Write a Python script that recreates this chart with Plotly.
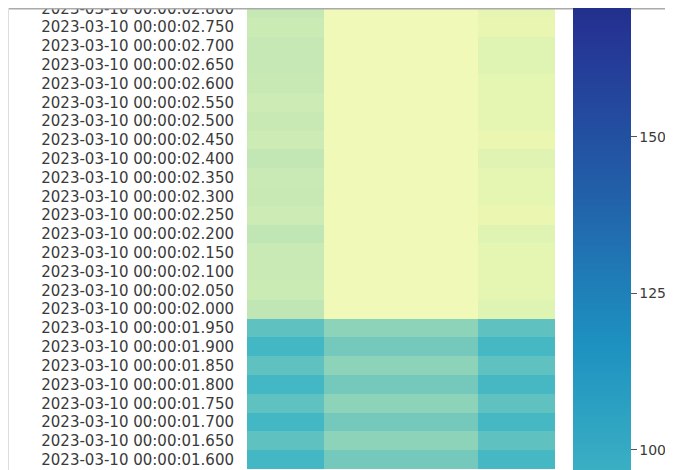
import plotly.graph_objects as go
import plotly.express as px

# ---- data ----
times = [
    "2023-03-10 00:00:01.600", "2023-03-10 00:00:01.650", "2023-03-10 00:00:01.700",
    "2023-03-10 00:00:01.750", "2023-03-10 00:00:01.800", "2023-03-10 00:00:01.850",
    "2023-03-10 00:00:01.900", "2023-03-10 00:00:01.950", "2023-03-10 00:00:02.000",
    "2023-03-10 00:00:02.050", "2023-03-10 00:00:02.100", "2023-03-10 00:00:02.150",
    "2023-03-10 00:00:02.200", "2023-03-10 00:00:02.250", "2023-03-10 00:00:02.300",
    "2023-03-10 00:00:02.350", "2023-03-10 00:00:02.400", "2023-03-10 00:00:02.450",
    "2023-03-10 00:00:02.500", "2023-03-10 00:00:02.550", "2023-03-10 00:00:02.600",
    "2023-03-10 00:00:02.650", "2023-03-10 00:00:02.700", "2023-03-10 00:00:02.750",
    "2023-03-10 00:00:02.800",
]
columns = ["ch1", "ch2", "ch3", "ch4"]
ch1 = [91, 80, 91, 80, 91, 80, 91, 80, 44.5, 39.5, 41, 41, 44.5, 38, 41.5, 41,
       43.5, 38, 41.5, 38, 41.5, 42.5, 42.5, 39.5, 42.5]
ch2 = [71, 62, 71, 62, 71, 62, 71, 62, 13, 13, 13, 13, 13, 13, 13, 13,
       13, 13, 13, 13, 13, 13, 13, 13, 13]
ch3 = [71, 62, 71, 62, 71, 62, 71, 62, 13, 13, 13, 13, 13, 13, 13, 13,
       13, 13, 13, 13, 13, 13, 13, 13, 13]
ch4 = [90, 80, 90, 80, 90, 80, 90, 80, 26, 22, 22, 22, 26, 18.5, 22, 22,
       25, 18.5, 22, 22, 22, 26, 26, 20, 21.5]
z_min, z_max = -8, 192
cbar_ticks = [75, 100, 125, 150, 175]

# ---- figure (page body adds an 8px margin, so the figure is 8px smaller) ----
W, H = 665, 462
ML, MR = 239, 118
PW = W - ML - MR

cols = px.colors.sequential.YlGnBu
n = len(cols)
colorscale = [[i / (n - 1), c] for i, c in enumerate(cols)]

z = [list(r) for r in zip(ch1, ch2, ch3, ch4)]

fig = go.Figure(go.Heatmap(
    z=z, x=columns, y=times,
    zmin=z_min, zmax=z_max,
    colorscale=colorscale,
    colorbar=dict(
        thickness=58, thicknessmode="pixels",
        len=1252, lenmode="pixels",
        x=(565 - ML) / PW, xanchor="left", xpad=0,
        y=1 + 134 / H, yanchor="top", ypad=0,
        outlinewidth=0,
        ticks="outside", ticklen=6, tickcolor="#555",
        tickfont=dict(family="DejaVu Sans", size=14, color="#3a3a3a"),
        tickmode="array", tickvals=cbar_ticks, ticktext=[str(t) for t in cbar_ticks],
    ),
))

fig.update_layout(
    width=W, height=H,
    margin=dict(l=ML, r=MR, t=0, b=0, autoexpand=False),
    paper_bgcolor="white", plot_bgcolor="white",
    font=dict(family="DejaVu Sans", color="#3a3a3a"),
    xaxis=dict(showticklabels=False, ticks="", showgrid=False, zeroline=False),
    yaxis=dict(
        type="category", range=[-0.55, 24.02],
        tickfont=dict(family="DejaVu Sans", size=15, color="#3a3a3a"),
        ticks="", ticklabelstandoff=12, showgrid=False, zeroline=False,
    ),
    shapes=[
        dict(type="line", xref="paper", yref="paper", x0=-1, x1=2,
             y0=1 - 0.8 / H, y1=1 - 0.8 / H, line=dict(color="#aaaaaa", width=1.5), layer="above"),
        dict(type="line", xref="paper", yref="paper", x0=0.5 / PW - ML / PW, x1=0.5 / PW - ML / PW,
             y0=-0.1, y1=1, line=dict(color="#dddddd", width=1), layer="above"),
    ],
)

fig.write_html("out.html")
